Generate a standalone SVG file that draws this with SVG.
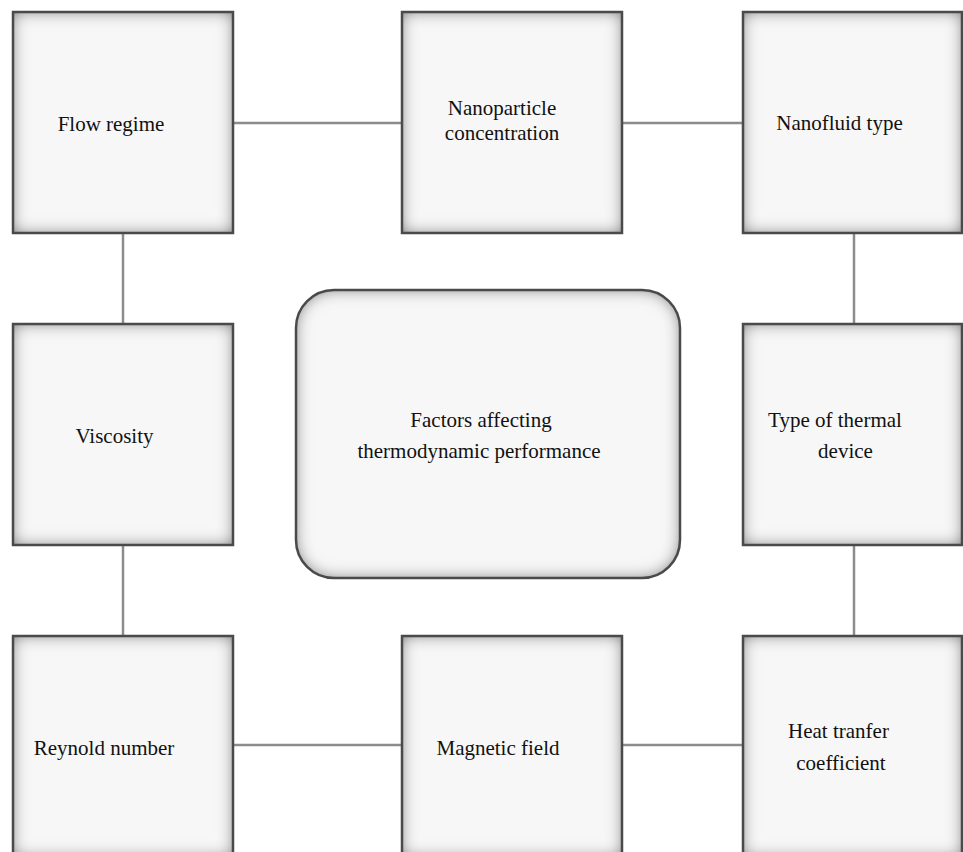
<svg xmlns="http://www.w3.org/2000/svg" width="963" height="852" viewBox="0 0 963 852">
<style>
.bg{fill:#f7f7f7}
.bd{fill:none;stroke:#4a4a4a;stroke-width:2.5}
.t{font-family:"Liberation Serif","DejaVu Serif","Times New Roman",serif;font-size:21px;fill:#111;text-anchor:middle}
.c{stroke:#8c8c8c;stroke-width:2.5;fill:none}
</style>
<defs>
<filter id="inner" x="-25%" y="-25%" width="150%" height="150%">
<feFlood flood-color="#000" flood-opacity="0.9" result="black"/>
<feComposite in="black" in2="SourceAlpha" operator="out" result="outside"/>
<feGaussianBlur in="outside" stdDeviation="8" result="blur"/>
<feComposite in="blur" in2="SourceAlpha" operator="in" result="inner"/>
<feMerge><feMergeNode in="SourceGraphic"/><feMergeNode in="inner"/></feMerge>
</filter>
</defs>
<rect width="963" height="852" fill="#fff"/>
<g id="connectors">
<line class="c" x1="233" y1="123" x2="402" y2="123"/>
<line class="c" x1="622" y1="123" x2="743" y2="123"/>
<line class="c" x1="123" y1="233" x2="123" y2="324"/>
<line class="c" x1="123" y1="545" x2="123" y2="636"/>
<line class="c" x1="854" y1="233" x2="854" y2="324"/>
<line class="c" x1="854" y1="545" x2="854" y2="636"/>
<line class="c" x1="233" y1="745" x2="402" y2="745"/>
<line class="c" x1="622" y1="745" x2="743" y2="745"/>
</g>
<g id="flow-regime">
<rect class="bg" filter="url(#inner)" x="13" y="12" width="220" height="221"/><rect class="bd" x="13" y="12" width="220" height="221"/>
<text class="t" x="111" y="131">Flow regime</text>
</g>
<g id="nanoparticle-concentration">
<rect class="bg" filter="url(#inner)" x="402" y="12" width="220" height="221"/><rect class="bd" x="402" y="12" width="220" height="221"/>
<text class="t" x="502" y="115">Nanoparticle</text>
<text class="t" x="502" y="140">concentration</text>
</g>
<g id="nanofluid-type">
<rect class="bg" filter="url(#inner)" x="743" y="12" width="219" height="221"/><rect class="bd" x="743" y="12" width="219" height="221"/>
<text class="t" x="839.5" y="130">Nanofluid type</text>
</g>
<g id="viscosity">
<rect class="bg" filter="url(#inner)" x="13" y="324" width="220" height="221"/><rect class="bd" x="13" y="324" width="220" height="221"/>
<text class="t" x="114.5" y="443">Viscosity</text>
</g>
<g id="center">
<rect class="bg" filter="url(#inner)" x="296" y="290" width="384" height="288" rx="38"/><rect class="bd" x="296" y="290" width="384" height="288" rx="38"/>
<text class="t" x="481" y="427">Factors affecting</text>
<text class="t" x="479" y="458">thermodynamic performance</text>
</g>
<g id="type-of-thermal-device">
<rect class="bg" filter="url(#inner)" x="743" y="324" width="219" height="221"/><rect class="bd" x="743" y="324" width="219" height="221"/>
<text class="t" x="835" y="427">Type of thermal</text>
<text class="t" x="845.5" y="458">device</text>
</g>
<g id="reynold-number">
<rect class="bg" filter="url(#inner)" x="13" y="636" width="220" height="221"/><rect class="bd" x="13" y="636" width="220" height="221"/>
<text class="t" x="104" y="755">Reynold number</text>
</g>
<g id="magnetic-field">
<rect class="bg" filter="url(#inner)" x="402" y="636" width="220" height="221"/><rect class="bd" x="402" y="636" width="220" height="221"/>
<text class="t" x="498" y="755">Magnetic field</text>
</g>
<g id="heat-transfer-coefficient">
<rect class="bg" filter="url(#inner)" x="743" y="636" width="219" height="221"/><rect class="bd" x="743" y="636" width="219" height="221"/>
<text class="t" x="838.5" y="738">Heat tranfer</text>
<text class="t" x="841" y="770">coefficient</text>
</g>
</svg>
